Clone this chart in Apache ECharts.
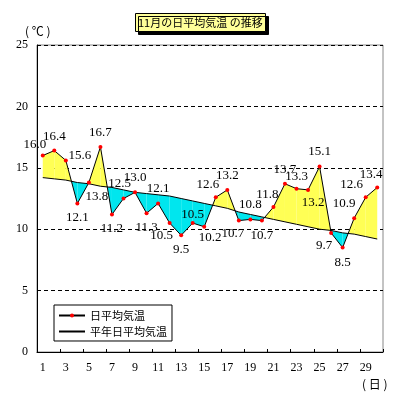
<!DOCTYPE html>
<html>
<head>
<meta charset="utf-8">
<script src="https://cdn.jsdelivr.net/npm/echarts@6/dist/echarts.min.js"></script>
<style>
  html, body { margin: 0; padding: 0; background: #fff; }
  #main { width: 399px; height: 400px; }
</style>
</head>
<body>
<div id="main"></div>
<script>
// 日付
const days = ['1', '2', '3', '4', '5', '6', '7', '8', '9', '10', '11', '12', '13', '14', '15',
    '16', '17', '18', '19', '20', '21', '22', '23', '24', '25', '26', '27', '28', '29', '30'];
// 日平均気温
const dailyTemp = [16.0, 16.4, 15.6, 12.1, 13.8, 16.7, 11.2, 12.5, 13.0, 11.3, 12.1, 10.5, 9.5, 10.5, 10.2,
    12.6, 13.2, 10.7, 10.8, 10.7, 11.8, 13.7, 13.3, 13.2, 15.1, 9.7, 8.5, 10.9, 12.6, 13.4];
// 平年日平均気温
const normalTemp = [14.2, 14.1, 14.0, 13.8, 13.7, 13.5, 13.4, 13.2, 13.0, 12.9, 12.8, 12.7, 12.5, 12.3, 12.1,
    11.9, 11.7, 11.4, 11.2, 11.0, 10.8, 10.6, 10.4, 10.2, 10.0, 9.9, 9.7, 9.6, 9.4, 9.2];
const yTicks = [0, 5, 10, 15, 20, 25];

// ラベル位置 (下に出す日 / ずらし量)
const labelBelow = [3, 4, 6, 9, 11, 12, 14, 17, 19, 23, 25, 26];
const labelShift = {
    0: [-8, 4], 2: [14, 10], 4: [8, 0], 7: [-4, 0], 11: [-8, -2], 13: [0, 6], 14: [6, -4],
    15: [-8, 2], 17: [-6, -2], 20: [-6, 2], 22: [0, 2], 23: [5, -2], 25: [-7, -2],
    27: [-10, 0], 28: [-14, 2], 29: [-6, 2]
};
const labelDist = 6;

let myChart = echarts.init(document.getElementById('main'));

function fillItem(params, api) {
    const i = params.dataIndex;
    if (i >= dailyTemp.length - 1) return;
    const a0 = api.coord([i, dailyTemp[i]]);
    const a1 = api.coord([i + 1, dailyTemp[i + 1]]);
    const n0 = api.coord([i, normalTemp[i]]);
    const n1 = api.coord([i + 1, normalTemp[i + 1]]);
    const d0 = dailyTemp[i] - normalTemp[i];
    const d1 = dailyTemp[i + 1] - normalTemp[i + 1];
    const warm = '#ffff55', cold = '#00e6ee';
    const children = [];
    if (d0 * d1 >= 0) {
        children.push({
            type: 'polygon',
            shape: { points: [a0, a1, n1, n0] },
            style: { fill: (d0 + d1) >= 0 ? warm : cold }
        });
    } else {
        // 交点で分割
        const t = d0 / (d0 - d1);
        const c = [a0[0] + t * (a1[0] - a0[0]), a0[1] + t * (a1[1] - a0[1])];
        children.push({
            type: 'polygon',
            shape: { points: [a0, c, n0] },
            style: { fill: d0 > 0 ? warm : cold }
        });
        children.push({
            type: 'polygon',
            shape: { points: [c, a1, n1] },
            style: { fill: d1 > 0 ? warm : cold }
        });
    }
    return { type: 'group', children: children };
}

let option = {
    backgroundColor: '#fff',
    animation: false,
    title: {
        text: '11月の日平均気温 の推移',
        left: 135,
        top: 13,
        padding: [4, 3, 4, 3],
        backgroundColor: '#ffff99',
        borderColor: '#000',
        borderWidth: 1,
        shadowColor: '#000',
        shadowBlur: 0,
        shadowOffsetX: 3,
        shadowOffsetY: 3,
        textStyle: { fontFamily: 'Noto Sans CJK JP', fontSize: 11, fontWeight: 'normal', color: '#000' }
    },
    legend: {
        orient: 'vertical',
        left: 54,
        top: 305,
        padding: [5, 5, 4, 4],
        itemGap: 5,
        itemWidth: 26,
        itemHeight: 5,
        backgroundColor: '#fff',
        borderColor: '#000',
        borderWidth: 1,
        textStyle: { fontFamily: 'Noto Sans CJK JP', fontSize: 11, color: '#000', padding: [2, 0, 0, 0] },
        data: [
            { name: '日平均気温' },
            { name: '平年日平均気温', itemStyle: { color: 'rgba(0,0,0,0)' } }
        ]
    },
    grid: {
        left: 37, right: 16, top: 45, bottom: 48,
        show: true, borderColor: '#888', borderWidth: 1
    },
    graphic: [
        { type: 'text', left: 25, top: 25, style: { text: '( ℃ )', font: '12px "Noto Sans CJK JP"', fill: '#000' } },
        { type: 'text', left: 362, top: 378, style: { text: '( 日 )', font: '12px "Noto Sans CJK JP"', fill: '#000' } }
    ],
    xAxis: {
        type: 'category',
        data: days,
        boundaryGap: true,
        axisLine: { lineStyle: { color: '#000', width: 1 } },
        axisTick: { show: true, inside: true, length: 3, lineStyle: { color: '#000' } },
        axisLabel: {
            interval: 1,
            margin: 10,
            fontFamily: 'Liberation Serif',
            fontSize: 12,
            color: '#000'
        },
        splitLine: { show: false }
    },
    yAxis: {
        type: 'value',
        min: yTicks[0],
        max: yTicks[yTicks.length - 1],
        interval: 5,
        axisLine: { show: true, lineStyle: { color: '#000', width: 1 } },
        axisTick: { show: false },
        axisLabel: { margin: 9, fontFamily: 'Liberation Serif', fontSize: 12, color: '#000' },
        splitLine: { show: true, lineStyle: { color: '#000', type: [4, 3], width: 1 } }
    },
    series: [
        {
            type: 'custom',
            name: 'fill',
            renderItem: fillItem,
            data: days.map(function (d, i) { return [i]; }),
            encode: { x: 0 },
            z: 1,
            silent: true
        },
        {
            name: '平年日平均気温',
            type: 'line',
            data: normalTemp,
            symbol: 'none',
            lineStyle: { color: '#000', width: 1 },
            itemStyle: { color: '#000' },
            z: 3
        },
        {
            name: '日平均気温',
            type: 'line',
            data: dailyTemp.map(function (v, i) {
                const below = labelBelow.indexOf(i) >= 0;
                const off = labelShift[i] || [0, 0];
                // シンボル(4x4)の左上基準
                const pos = below
                    ? [2 + off[0], 4 + labelDist + off[1]]
                    : [2 + off[0], -labelDist + off[1]];
                return {
                    value: v,
                    label: { position: pos, align: 'center', verticalAlign: below ? 'top' : 'bottom' }
                };
            }),
            symbol: 'circle',
            symbolSize: 4,
            lineStyle: { color: '#000', width: 1 },
            itemStyle: { color: '#ff0000', borderWidth: 0 },
            label: {
                show: true,
                formatter: function (p) { return p.value.toFixed(1); },
                fontFamily: 'Liberation Serif',
                fontSize: 13,
                color: '#000'
            },
            z: 4
        }
    ]
};

myChart.setOption(option);
</script>
</body>
</html>
